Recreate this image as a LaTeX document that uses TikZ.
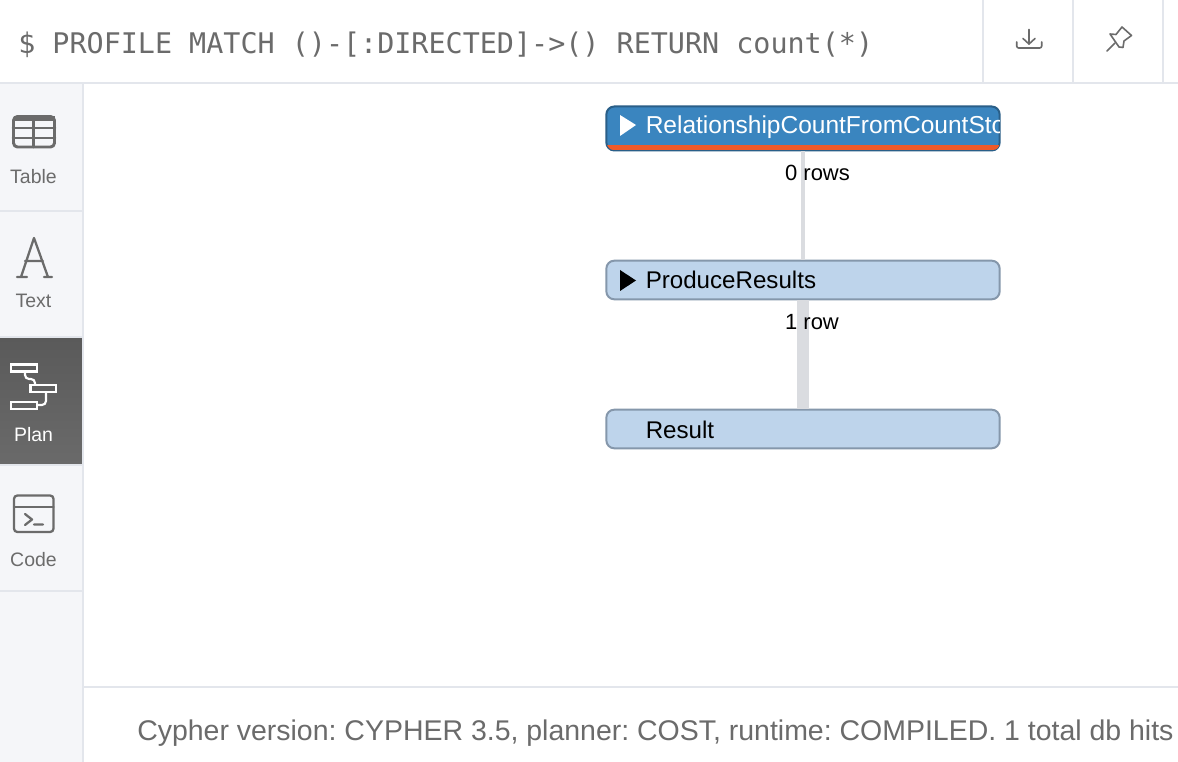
\documentclass[tikz,border=0pt]{standalone}
\usepackage{fontspec}
\setmainfont{Liberation Sans}
\setmonofont{DejaVu Sans Mono}
\definecolor{opblue}{HTML}{3A85BF}
\definecolor{opblueline}{HTML}{2A5F88}
\definecolor{oppale}{HTML}{BED4EB}
\definecolor{oppaleline}{HTML}{8597AB}
\definecolor{opred}{HTML}{F05A28}
\definecolor{sidebg}{HTML}{F5F6F9}
\definecolor{sepline}{HTML}{E3E6EC}
\definecolor{iconcol}{HTML}{6B6B6B}
\definecolor{plantop}{HTML}{5A5A5A}
\definecolor{planbot}{HTML}{6A6A6A}
\definecolor{linkcol}{HTML}{DADCE0}
\usetikzlibrary{calc}
\begin{document}
\frenchspacing
\begin{tikzpicture}[x=0.75pt,y=-0.75pt,
    opbox/.style={draw=oppaleline,fill=oppale,line width=1.5pt,rounded corners=6pt,inner sep=0pt,minimum width=295pt,minimum height=29pt},
    optext/.style={anchor=base west,inner sep=0pt,font=\fontsize{18.1}{20}\selectfont},
    rowtext/.style={inner sep=0pt,anchor=base,font=\fontsize{16.5}{18}\selectfont},
    tabtext/.style={inner sep=0pt,anchor=base,text=iconcol,font=\fontsize{14.6}{16}\selectfont},
    sepr/.style={draw=sepline,line width=1.5pt},
    icon/.style={draw=iconcol,line width=1.7pt,line join=round,line cap=round}]
    \useasboundingbox (0,0) rectangle (1178,762);
    \fill[white] (0,0) rectangle (1178,762);
    % side tabs
    \fill[sidebg] (0,84) rectangle (83,762);
    \fill[top color=plantop,bottom color=planbot] (0,338) rectangle (82,464);
    \draw[sepr] (83,84) -- (83,762);
    \draw[sepr] (0,211) -- (82,211);
    \draw[sepr] (0,337) -- (82,337);
    \draw[sepr] (0,465) -- (82,465);
    \draw[sepr] (0,591) -- (82,591);
    % top bar and footer
    \draw[sepr] (0,83) -- (1178,83);
    \draw[sepr] (983,0) -- (983,83);
    \draw[sepr] (1073,0) -- (1073,83);
    \draw[sepr] (1163,0) -- (1163,83);
    \draw[sepr] (84,687) -- (1178,687);
    \node[anchor=base west,inner sep=0pt,text=iconcol,font=\ttfamily\fontsize{21.3}{24}\selectfont] (query) at (18,54) {\$ PROFILE MATCH ()-[:DIRECTED]->() RETURN count(*)};
    \node[anchor=base west,inner sep=0pt,text=iconcol,font=\fontsize{21.35}{24}\selectfont] (status) at (137,740) {Cypher version: CYPHER 3.5, planner: COST, runtime: COMPILED. 1 total db hits};
    % plan nodes
    \node[opbox,draw=opblueline,fill=opblue,minimum height=33pt] (relcount) at (803,128.5) {};
    \node[opbox] (produce) at (803,280) {};
    \node[opbox] (result) at (803,429) {};
    \fill[linkcol] ($(relcount.south)+(-2,0)$) rectangle ($(produce.north)+(2,0)$);
    \fill[linkcol] ($(produce.south)+(-6,0)$) rectangle ($(result.north)+(6,0)$);
    \begin{scope}
        \clip[rounded corners=5pt] (607,107) rectangle (999.5,150);
        \fill[opred] (607,145) rectangle (999.5,150);
        \node[optext,text=white,font=\fontsize{18.38}{20}\selectfont] (relcounttext) at (645.5,134) {RelationshipCountFromCountStore};
    \end{scope}
    \fill[white] (620,115) -- (636,125) -- (620,136) -- cycle;
    \fill[black] (620,270) -- (636,280.5) -- (620,291) -- cycle;
    \node[optext] (producetext) at (645.5,289) {ProduceResults};
    \node[optext] (resulttext) at (645.5,438.5) {Result};
    \node[rowtext] (zerorows) at (817.5,181) {0 rows};
    \node[rowtext] (onerow) at (812,330) {1 row};
    % tab labels
    \node[tabtext] (tabletab) at (33.5,184) {Table};
    \node[tabtext] (texttab) at (33.5,308) {Text};
    \node[tabtext,text=white] (plantab) at (33.5,442) {Plan};
    \node[tabtext] (codetab) at (33.5,566) {Code};
    % table icon
    \draw[icon,line width=2.2pt,rounded corners=3pt] (13.5,116.5) rectangle (54.5,147);
    \fill[iconcol] (13.5,116.5) rectangle (54.5,121);
    \draw[icon,line width=2pt] (13,128) -- (55,128) (13,138) -- (55,138) (33.5,116.5) -- (33.5,147);
    % text icon
    \draw[icon] (17,277) -- (27,277) (44,277) -- (52,277) (21,277) -- (34,238) -- (48,277) (25,261) -- (43,261);
    % plan icon
    \draw[white,line width=1.6pt] (11,364.5) rectangle (37,371.5) (30.5,385) rectangle (56,392) (11,402) rectangle (37,409);
    \draw[white,line width=1.6pt,rounded corners=3pt] (25,372) -- (25,379) -- (35,379) -- (35,385);
    \draw[white,line width=1.6pt,rounded corners=3pt] (46,392) -- (46,405) -- (37,405);
    % code icon
    \draw[icon,rounded corners=2.5pt] (14,495.5) rectangle (53.5,532);
    \draw[icon] (14,507) -- (53.5,507);
    \draw[icon] (25,514) -- (32,519.5) -- (25,525) (34,524.5) -- (43,524.5);
    % download icon
    \draw[icon,line width=1.2pt] (1029,29.5) -- (1029,44);
    \draw[icon,line width=1.2pt] (1023,38.5) -- (1029,44) -- (1035,38.5);
    \draw[icon,line width=1.2pt,rounded corners=1.5pt] (1016.7,42) -- (1016.7,48) -- (1041.7,48) -- (1041.7,42);
    % pin icon
    \draw[icon,line width=1.2pt] (1107,51) -- (1115,43);
    \draw[icon,line width=1.2pt] (1110,34) -- (1116,34.5) -- (1122,27) -- (1131.5,35.5) -- (1124,41) -- (1123,47.5) -- (1119,47) -- cycle;
\end{tikzpicture}
\end{document}
